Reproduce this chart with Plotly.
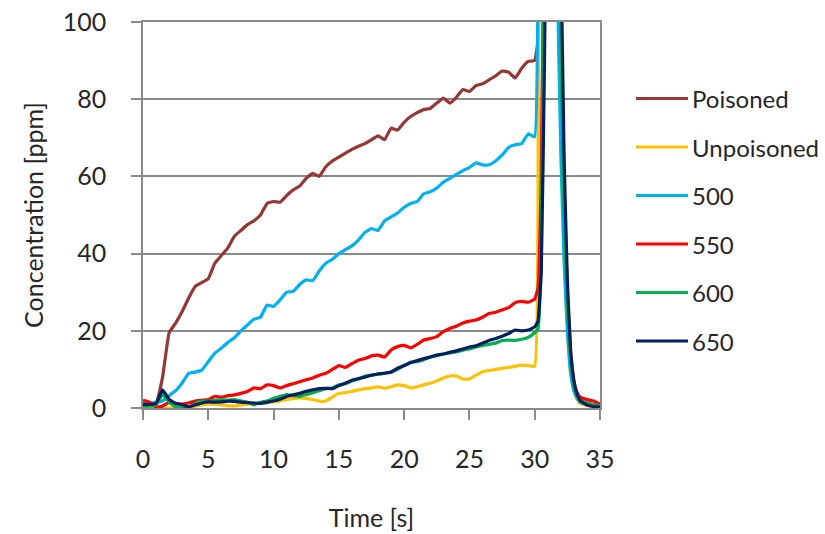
import plotly.graph_objects as go

# ---- data ----
time_s = [0.0, 0.5, 1.0, 1.5, 2.0, 2.5, 3.0, 3.5, 4.0, 4.5, 5.0, 5.5, 6.0, 6.5, 7.0, 7.5,
          8.0, 8.5, 9.0, 9.5, 10.0, 10.5, 11.0, 11.5, 12.0, 12.5, 13.0, 13.5, 14.0, 14.5,
          15.0, 15.5, 16.0, 16.5, 17.0, 17.5, 18.0, 18.5, 19.0, 19.5, 20.0, 20.5, 21.0,
          21.5, 22.0, 22.5, 23.0, 23.5, 24.0, 24.5, 25.0, 25.5, 26.0, 26.5, 27.0, 27.5,
          28.0, 28.5, 29.0, 29.5, 30.0,
          30.25, 30.5, 30.75, 31.25, 31.75, 32.0, 32.25, 32.5, 32.75, 33.0, 33.25, 33.5,
          34.0, 34.5, 35.0]

poisoned = [1.5, 1.2, 1.0, 8.0, 19.5, 22.0, 25.0, 28.5, 31.5, 32.5, 33.5, 37.5, 39.5, 41.5,
            44.5, 46.0, 47.5, 48.5, 50.0, 53.0, 53.5, 53.3, 55.0, 56.5, 57.5, 59.5, 60.8,
            60.0, 62.5, 64.0, 65.0, 66.0, 67.0, 67.8, 68.5, 69.5, 70.5, 69.5, 72.5, 72.0,
            74.0, 75.5, 76.5, 77.3, 77.6, 79.0, 80.3, 79.0, 80.5, 82.5, 82.0, 83.5, 84.0,
            85.0, 86.0, 87.3, 87.0, 85.5, 88.0, 89.8, 90.0,
            95.0, 150.0, 220.0, 260.0, 150.0, 100.0, 55.0, 28.0, 13.0, 6.0, 3.2, 2.0,
            1.3, 0.9, 0.6]

unpoisoned = [0.0, 0.0, 0.0, 0.0, 0.0, 0.0, 0.0, 0.2, 0.5, 0.8, 1.0, 1.0, 0.8, 0.6, 0.5,
              0.8, 1.0, 1.2, 1.3, 1.4, 1.6, 1.8, 2.2, 2.5, 2.6, 2.5, 2.2, 1.8, 1.8, 2.8,
              3.8, 4.0, 4.3, 4.7, 5.0, 5.2, 5.5, 5.1, 5.5, 6.0, 5.8, 5.2, 5.5, 6.0, 6.4,
              7.0, 7.8, 8.3, 8.3, 7.5, 7.5, 8.5, 9.4, 9.7, 10.0, 10.3, 10.5, 10.8, 11.1,
              11.0, 10.8,
              170.0, 240.0, 260.0, 250.0, 130.0, 80.0, 44.0, 22.0, 10.0, 4.5, 2.2, 1.2,
              0.6, 0.4, 0.3]

t500 = [1.5, 1.2, 1.5, 1.8, 3.2, 4.5, 6.5, 9.0, 9.3, 9.8, 12.0, 14.2, 15.5, 17.0, 18.2,
        20.0, 21.5, 23.0, 23.5, 26.7, 26.3, 28.0, 30.0, 30.2, 32.0, 33.2, 33.0, 35.5,
        37.5, 38.5, 40.0, 41.0, 42.0, 43.5, 45.5, 46.5, 46.0, 48.5, 49.5, 50.5, 52.0,
        53.0, 53.5, 55.5, 56.0, 57.0, 58.5, 59.5, 60.5, 61.5, 62.3, 63.5, 63.0, 63.0,
        64.0, 65.5, 67.5, 68.2, 68.5, 71.0, 70.3,
        110.0, 200.0, 260.0, 240.0, 108.0, 66.0, 38.0, 20.0, 9.0, 4.5, 2.5, 1.5,
        0.9, 0.6, 0.4]

t550 = [2.0, 1.5, 0.2, 0.5, 1.5, 1.2, 1.0, 1.3, 1.8, 2.0, 2.2, 3.0, 2.8, 3.2, 3.4, 3.8,
        4.3, 5.2, 5.0, 6.0, 5.8, 5.2, 5.8, 6.3, 6.8, 7.3, 7.8, 8.5, 9.0, 10.0, 11.0,
        10.5, 11.5, 12.4, 12.8, 13.5, 13.7, 13.2, 15.0, 15.9, 16.2, 15.6, 16.5, 17.6,
        18.0, 18.5, 19.8, 20.6, 21.2, 22.0, 22.5, 22.8, 23.5, 24.5, 24.8, 25.4, 26.0,
        27.3, 27.6, 27.4, 28.2,
        31.0, 60.0, 140.0, 260.0, 160.0, 105.0, 58.0, 30.0, 14.0, 7.0, 4.0, 2.8,
        2.2, 1.8, 1.0]

t600 = [0.5, 0.5, 0.8, 3.5, 1.5, 0.3, 0.0, 0.2, 1.2, 1.8, 1.8, 2.0, 2.2, 2.0, 2.2, 1.8,
        1.5, 0.8, 1.5, 1.8, 2.5, 3.0, 3.5, 3.2, 3.0, 3.5, 3.9, 4.5, 5.0, 5.2, 6.0, 6.3,
        7.0, 7.5, 8.3, 8.5, 8.8, 9.0, 9.3, 10.0, 11.0, 11.8, 12.0, 12.5, 13.2, 13.6,
        14.0, 14.3, 14.5, 15.0, 15.3, 15.8, 16.2, 16.5, 16.8, 17.5, 17.6, 17.5, 17.8,
        18.3, 19.5,
        20.5, 40.0, 130.0, 260.0, 145.0, 95.0, 52.0, 26.0, 12.0, 5.5, 3.0, 1.8,
        1.2, 0.8, 0.6]

t650 = [0.9, 0.9, 1.2, 4.7, 2.2, 1.2, 0.8, 0.3, 0.8, 1.3, 1.6, 1.5, 1.6, 1.8, 1.7, 1.5,
        1.4, 1.3, 1.2, 1.5, 1.8, 2.3, 3.0, 3.4, 3.8, 4.3, 4.7, 5.0, 5.1, 5.0, 5.8, 6.4,
        7.2, 7.6, 8.0, 8.5, 8.8, 9.0, 9.3, 10.3, 11.0, 11.8, 12.3, 12.8, 13.2, 13.7,
        14.0, 14.4, 14.8, 15.3, 15.8, 16.1, 16.8, 17.5, 18.0, 18.6, 19.3, 20.2, 20.0,
        20.2, 21.0,
        22.5, 35.0, 90.0, 260.0, 175.0, 120.0, 65.0, 33.0, 15.0, 7.0, 3.5, 1.8,
        0.8, 0.4, 0.3]

series_names = ["Poisoned", "Unpoisoned", "500", "550", "600", "650"]
series_values = [poisoned, unpoisoned, t500, t550, t600, t650]
series_colors = ["#953735", "#FFC000", "#00B0F0", "#FF0000", "#00B050", "#002060"]

y_ticks = [0, 20, 40, 60, 80, 100]
x_ticks = [0, 5, 10, 15, 20, 25, 30, 35]

FONT = "Lato"
TXT = "#262626"
GRID = "#8a8a8a"

fig = go.Figure()
for name, vals, col in zip(series_names, series_values, series_colors):
    fig.add_trace(go.Scatter(x=time_s, y=vals, mode="lines", name=name,
                             line=dict(color=col, width=3.2, shape="spline", smoothing=0.3),
                             showlegend=False))

# manual legend (Excel-style, long line samples, wide spacing)
leg_y_px = [98.5, 147, 195.5, 244, 292.5, 341]
plot_top, plot_bottom, plot_left, plot_right = 22, 408, 143, 600
pw = plot_right - plot_left
ph = plot_bottom - plot_top
for name, col, ypx in zip(series_names, series_colors, leg_y_px):
    yp = (plot_bottom - ypx) / ph
    fig.add_shape(type="line", xref="paper", yref="paper",
                  x0=(636 - plot_left) / pw, x1=(688 - plot_left) / pw, y0=yp, y1=yp,
                  line=dict(color=col, width=3.2))
    fig.add_annotation(xref="paper", yref="paper", x=(690 - plot_left) / pw, y=yp,
                       text=name, showarrow=False, xanchor="left", yanchor="middle",
                       font=dict(family=FONT, size=24, color=TXT))

fig.update_layout(
    width=825, height=534,
    margin=dict(l=143, r=225, t=22, b=126, autoexpand=False),
    paper_bgcolor="white", plot_bgcolor="white",
    font=dict(family=FONT, color=TXT, size=25),
    showlegend=False,
)
fig.update_xaxes(range=[0, 35], tickvals=x_ticks, showgrid=False, zeroline=False,
                 automargin=False,
                 showline=True, linecolor=GRID, linewidth=1.5, mirror=True,
                 ticks="outside", ticklen=10, tickcolor=GRID, tickwidth=1.5,
                 ticklabelstandoff=18,
                 tickfont=dict(family=FONT, size=25, color=TXT),
                 title=dict(text="Time [s]", font=dict(family=FONT, size=25, color=TXT),
                            standoff=38))
fig.update_yaxes(range=[0, 100], tickvals=y_ticks, showgrid=True, gridcolor=GRID,
                 gridwidth=1.5, zeroline=False, automargin=False,
                 showline=True, linecolor=GRID, linewidth=1.5, mirror=True,
                 ticks="outside", ticklen=10, tickcolor=GRID, tickwidth=1.5,
                 ticklabelstandoff=20,
                 tickfont=dict(family=FONT, size=25, color=TXT),
                 title=dict(text="Concentration [ppm]",
                            font=dict(family=FONT, size=25, color=TXT), standoff=12))

fig.write_html("out.html", config={"displayModeBar": False},
               post_script="document.body.style.margin='0';")
